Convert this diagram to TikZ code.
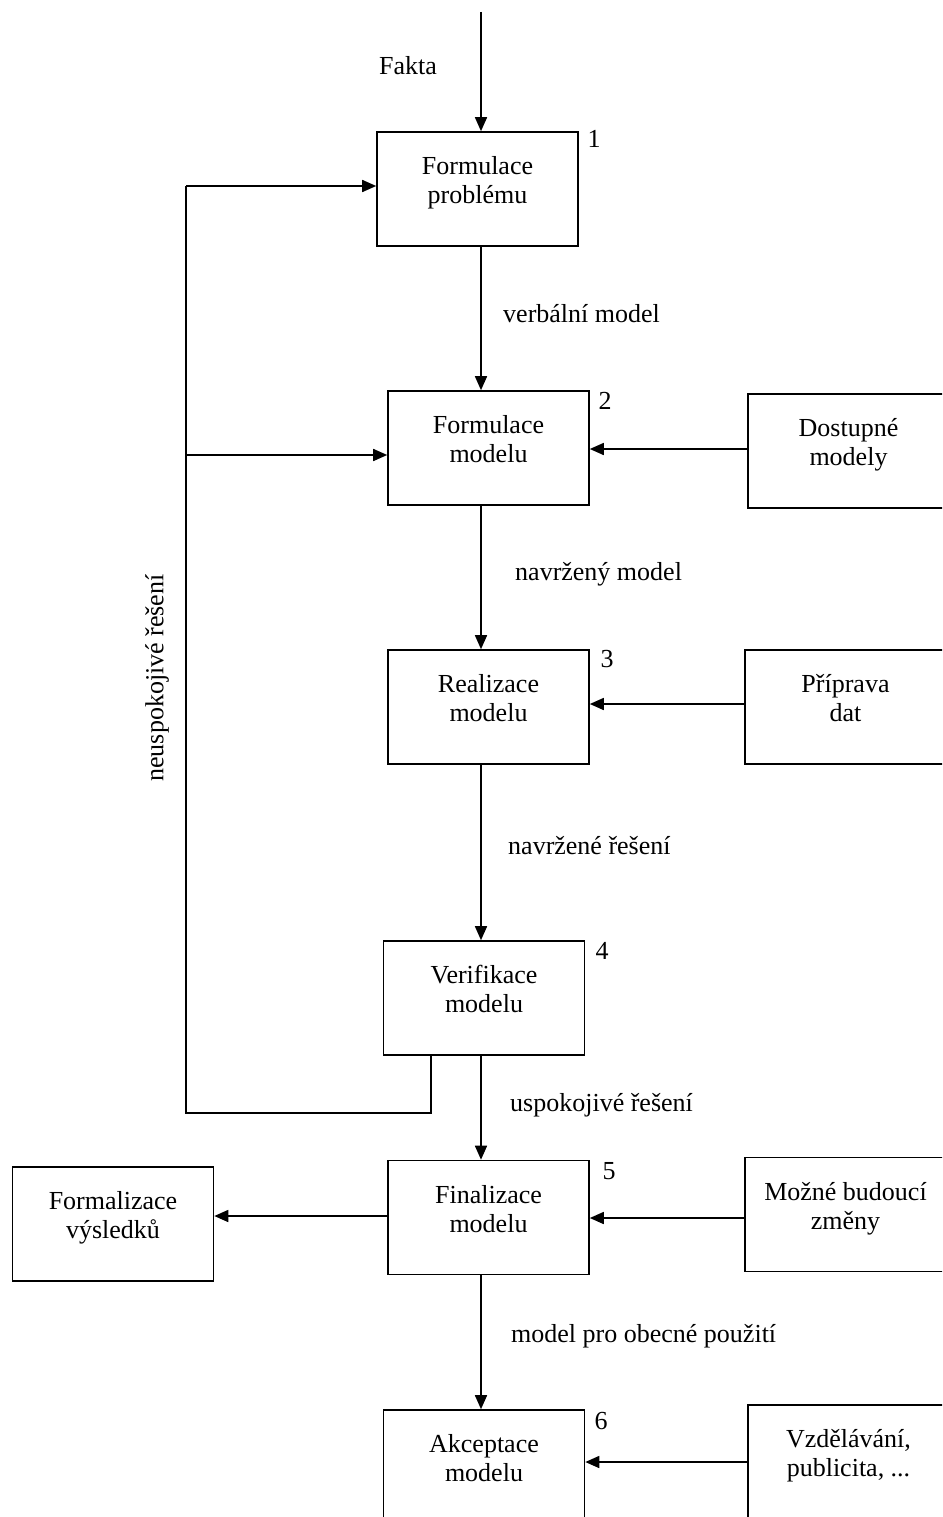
\documentclass[tikz,border=0pt]{standalone}
\usepackage{fontspec}
\setmainfont{Liberation Serif}
\usetikzlibrary{arrows.meta}
\begin{document}
\begin{tikzpicture}[x=1pt,y=-1pt,
  every node/.style={font=\fontsize{26}{29}\selectfont},
  stage/.style={draw,line width=1.6pt,minimum width=201pt,minimum height=114pt,align=center,inner sep=0pt,text depth=18pt},
  flow/.style={line width=1.6pt,-{Triangle[length=14pt,width=12pt]}},
  line/.style={line width=1.6pt},
  lbl/.style={anchor=west,inner sep=0pt},
  num/.style={inner sep=0pt}]
\useasboundingbox (0,0) rectangle (942,1517);
\clip (0,0) rectangle (942,1517);
\fill[white] (0,0) rectangle (942,1517);

% main chain of stages
\node[stage] (s1) at (477.5,189) {Formulace\\problému};
\node[stage] (s2) at (488.5,448) {Formulace\\modelu};
\node[stage] (s3) at (488.5,707) {Realizace\\modelu};
\node[stage] (s4) at (484,998) {Verifikace\\modelu};
\node[stage] (s5) at (488.5,1217.5) {Finalizace\\modelu};
\node[stage] (s6) at (484,1467) {Akceptace\\modelu};

% side inputs and output
\node[stage] (dm) at (848.5,451) {Dostupné\\modely};
\node[stage] (pd) at (845.5,707) {Příprava\\dat};
\node[stage] (bz) at (845.5,1214.5) {Možné budoucí\\změny};
\node[stage] (vp) at (848.5,1462) {Vzdělávání,\\publicita, ...};
\node[stage] (fv) at (113,1224) {Formalizace\\výsledků};

% stage numbers
\node[num] (n1) at (594,139) {1};
\node[num] (n2) at (605,401) {2};
\node[num] (n3) at (607,659) {3};
\node[num] (n4) at (602,951) {4};
\node[num] (n5) at (609,1171) {5};
\node[num] (n6) at (601,1421) {6};

% vertical flow
\coordinate (top) at (481,12);
\draw[flow] (top) -- (top |- s1.north);
\node[num] (fakta) at (408,66) {Fakta};
\draw[flow] (s1.south -| 481,0) -- (s2.north -| 481,0);
\node[lbl] (l12) at (503,314) {verbální model};
\draw[flow] (s2.south -| 481,0) -- (s3.north -| 481,0);
\node[lbl] (l23) at (515,574) {navržený model};
\draw[flow] (s3.south -| 481,0) -- (s4.north -| 481,0);
\node[lbl] (l34) at (508,846) {navržené řešení};
\draw[flow] (s4.south -| 481,0) -- (s5.north -| 481,0);
\node[lbl] (l45) at (510,1105) {uspokojivé řešení};
\draw[flow] (s5.south -| 481,0) -- (s6.north -| 481,0);
\node[lbl] (l56) at (511,1336) {model pro obecné použití};

% side arrows
\draw[flow] (dm.west |- 0,449) -- (s2.east |- 0,449);
\draw[flow] (pd.west |- 0,704) -- (s3.east |- 0,704);
\draw[flow] (bz.west |- 0,1218) -- (s5.east |- 0,1218);
\draw[flow] (vp.west) -- (s6.east |- vp.west);
\draw[flow] (s5.west |- 0,1216) -- (fv.east |- 0,1216);

% feedback loop for an unsatisfactory solution
\coordinate (fbA) at (431,1113);
\coordinate (fbB) at (186,1113);
\coordinate (fbC) at (186,186);
\coordinate (fbD) at (186,455);
\draw[line] (s4.south -| fbA) -- (fbA) -- (fbB) -- (fbC);
\draw[flow] (fbC) -- (s1.west |- fbC);
\draw[flow] (fbD) -- (s2.west |- fbD);
\node[rotate=90,inner sep=0pt] (neusp) at (157,678) {neuspokojivé řešení};
\end{tikzpicture}
\end{document}
